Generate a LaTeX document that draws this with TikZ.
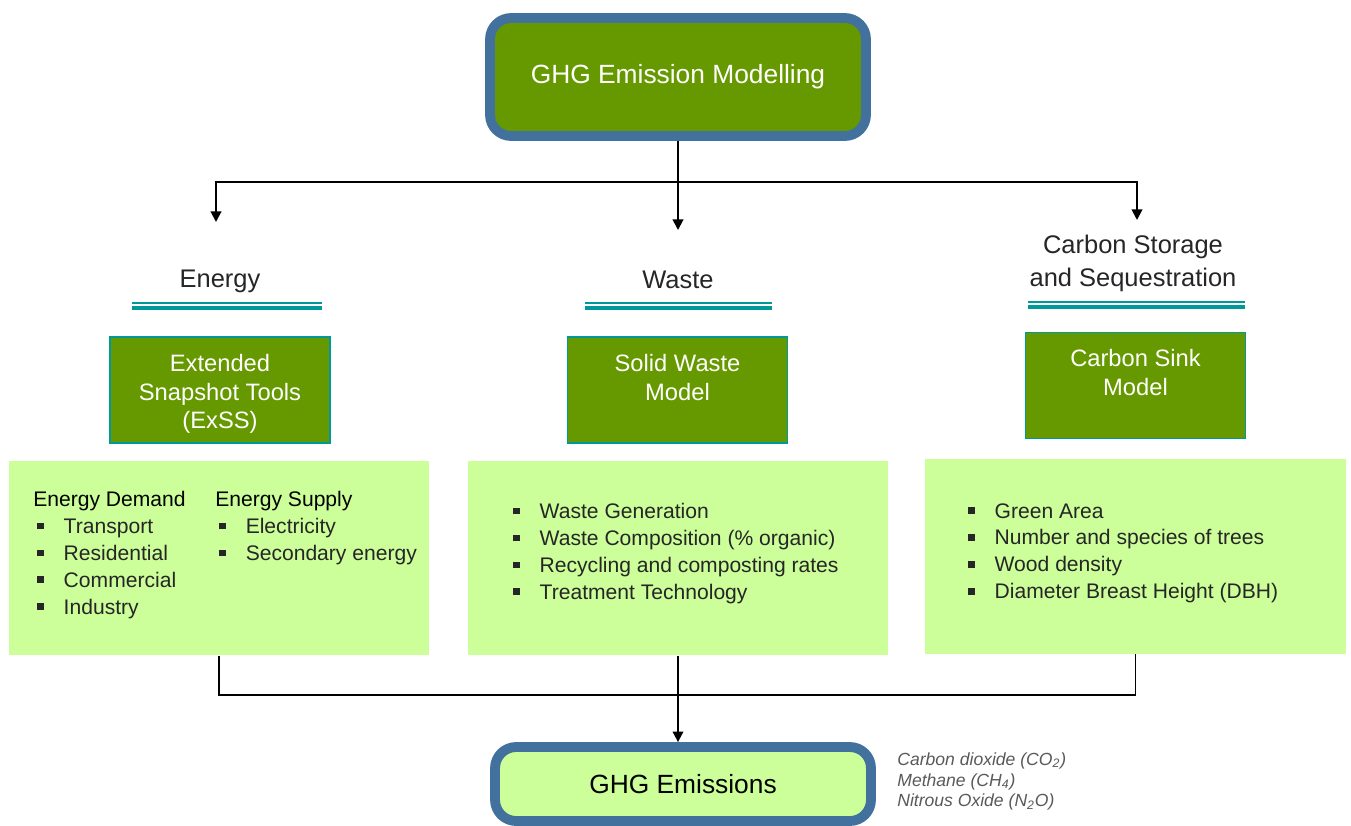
\documentclass[tikz,border=0pt]{standalone}
\usepackage{fontspec}
\setmainfont{Liberation Sans}
\usetikzlibrary{positioning,calc,arrows.meta}
\definecolor{modelgreen}{RGB}{102,153,0}
\definecolor{inputgreen}{RGB}{204,255,153}
\definecolor{frameblue}{RGB}{65,113,156}
\definecolor{ruleteal}{RGB}{0,153,153}
\definecolor{textgray}{RGB}{38,38,38}
\definecolor{notegray}{RGB}{89,89,89}
\newcommand{\sqitem}{\makebox[15pt][l]{\rule[2.4pt]{3.8pt}{3.8pt}}}

\begin{document}
\begin{tikzpicture}[x=0.02cm, y=-0.02cm,
    mainbox/.style={rectangle, rounded corners=12pt, draw=frameblue, line width=5.6pt, minimum width=7.52cm, font=\fontsize{15}{18}\selectfont},
    modelbox/.style={rectangle, fill=modelgreen, draw=ruleteal, line width=0.7pt, minimum width=4.4cm, minimum height=2.12cm},
    modeltext/.style={text=white, align=center, font=\fontsize{13.5}{16.4}\selectfont},
    inputbox/.style={rectangle, fill=inputgreen, minimum width=8.42cm, minimum height=3.9cm},
    listtext/.style={inner sep=0pt, anchor=north west, align=left, text=textgray, font=\fontsize{12}{15.3}\selectfont},
    heading/.style={text=textgray, align=center, font=\fontsize{14.5}{18.7}\selectfont},
    note/.style={inner sep=0pt, anchor=north west, align=left, text=notegray, font=\fontsize{10}{11.9}\selectfont\itshape},
    flow/.style={-{Triangle[length=6pt,width=6pt]}, line width=1.1pt},
    link/.style={line width=1.1pt},
    thinrule/.style={ruleteal, line width=1.1pt},
    thickrule/.style={ruleteal, line width=2.4pt}
]
\useasboundingbox (0,0) rectangle (1351,825);

% Top model
\node[mainbox, fill=modelgreen, minimum height=2.36cm, text=white] (ghgmodel) at (678,77) {GHG Emission Modelling};

% Sector headings
\node[heading] (energy) at (220,281) {Energy};
\node[heading] (waste) at (678,280) {Waste};
\node[heading] (carbon) at (1133,263) {Carbon Storage\\and Sequestration};

% Double rules under headings
\draw[thinrule] (132,303) -- (322,303);
\draw[thickrule] (132,308) -- (322,308);
\draw[thinrule] (585,303) -- (772,303);
\draw[thickrule] (585,308) -- (772,308);
\draw[thinrule] (1028,302) -- (1245,302);
\draw[thickrule] (1028,307) -- (1245,307);

% Models
\node[modelbox] (essbox) at (220,390) {};
\node[modeltext, below=6.5pt of essbox.north] {Extended\\Snapshot Tools\\(ExSS)};
\node[modelbox] (swmbox) at (677.5,390) {};
\node[modeltext, below=6.5pt of swmbox.north] {Solid Waste\\Model};
\node[modelbox] (csmbox) at (1135.5,385.5) {};
\node[modeltext, below=6.5pt of csmbox.north] {Carbon Sink\\Model};

% Inputs
\node[inputbox] (enbox) at (219,558) {};
\node[inputbox] (wsbox) at (678,558) {};
\node[inputbox] (csbox) at (1135.5,556.5) {};

\node[listtext] (demand) at (33,491) {{\color{black}Energy Demand}\\
  \hspace*{2.3pt}\sqitem Transport\\ \hspace*{2.3pt}\sqitem Residential\\
  \hspace*{2.3pt}\sqitem Commercial\\ \hspace*{2.3pt}\sqitem Industry};
\node[listtext] (supply) at (215,491) {{\color{black}Energy Supply}\\
  \hspace*{2.3pt}\sqitem Electricity\\ \hspace*{2.3pt}\sqitem Secondary energy};
\node[listtext] (wastelist) at (513,503) {\sqitem Waste Generation\\ \sqitem Waste Composition (\% organic)\\
  \sqitem Recycling and composting rates\\ \sqitem Treatment Technology};
\node[listtext] (carbonlist) at (968,503) {\sqitem Green Area\\ \sqitem Number and species of trees\\
  \sqitem Wood density\\ \sqitem Diameter Breast Height (DBH)};

% Output
\node[mainbox, fill=inputgreen, minimum height=1.48cm, text=black] (emis) at (683,784) {GHG Emissions};
\node[note] (gases) at (897,752) {Carbon dioxide (CO\textsubscript{2})\\Methane (CH\textsubscript{4})\\Nitrous Oxide (N\textsubscript{2}O)};

% Connectors
\coordinate (split) at (678,182);
\coordinate (entip) at (216,222);
\coordinate (wstip) at (678,230);
\coordinate (cstip) at (1137,220);
\draw[flow] (ghgmodel.south) -- (wstip);
\draw[flow] (split) -| (entip);
\draw[flow] (split) -| (cstip);

\coordinate (merge) at (678,695);
\draw[link] (enbox.south) |- (merge);
\draw[link] (csbox.south) |- (merge);
\draw[flow] (wsbox.south) -- (wsbox.south |- emis.north);

\end{tikzpicture}
\end{document}
